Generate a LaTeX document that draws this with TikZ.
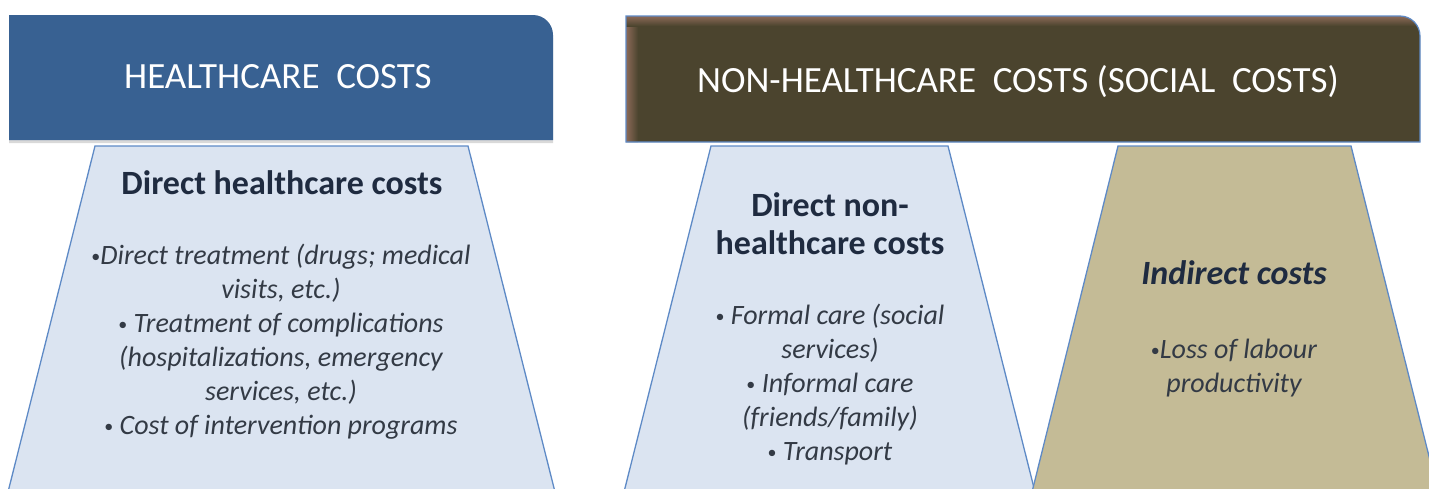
\documentclass[tikz,border=0pt]{standalone}
\usepackage{fontspec}
\setmainfont{Carlito}
\usetikzlibrary{shadows}
\definecolor{hcblue}{HTML}{386192}
\definecolor{olivedark}{HTML}{4B442E}
\definecolor{rustbrown}{HTML}{8C6A58}
\definecolor{paleblue}{HTML}{DBE4F1}
\definecolor{khaki}{HTML}{C4BB96}
\definecolor{edgeblue}{HTML}{5E8AC6}
\definecolor{titleink}{HTML}{1F2B40}
\definecolor{itemink}{HTML}{333A45}
% small list bullet
\newcommand\itembullet{{\fontsize{18}{18}\selectfont\upshape\raisebox{0.12em}{•}}}
\begin{document}
\begin{tikzpicture}[x=1pt,y=-1pt,
  hdrtext/.style={text=white,font=\fontsize{37}{40}\selectfont,inner sep=0pt},
  boxtitle/.style={text=titleink,align=center,inner sep=0pt,font=\fontsize{34}{38}\selectfont\bfseries},
  boxitems/.style={text=itemink,align=center,inner sep=0pt,font=\fontsize{28}{34}\selectfont\itshape},
  trap/.style={draw=edgeblue,line width=1.3pt}]
\useasboundingbox (0,0) rectangle (1429,488);

% column bodies (trapezoids running off the lower edge)
\begin{scope}
\clip (0,0) rectangle (1429,488);
\fill[paleblue] (95,146) -- (468,146) -- (555,492) -- (8,492) -- cycle;
\draw[trap] (8,492) -- (95,146) -- (468,146) -- (555,492);
\fill[paleblue] (711,146) -- (948,146) -- (1035,492) -- (624,492) -- cycle;
\draw[trap] (624,492) -- (711,146) -- (948,146) -- (1035,492);
\fill[khaki] (1118,146) -- (1351,146) -- (1438,492) -- (1032,492) -- cycle;
\draw[trap] (1032,492) -- (1118,146) -- (1351,146) -- (1438,492);
\end{scope}

% header bars (y axis points down, so the corner arc runs from -90 to 0)
\fill[hcblue,drop shadow={shadow xshift=0pt,shadow yshift=-3pt,opacity=0.3}]
  (9,15) -- (533,15) arc[start angle=-90,end angle=0,radius=20] -- (553,140) -- (9,140) -- cycle;

\begin{scope}
\clip (626,16) -- (1400,16) arc[start angle=-90,end angle=0,radius=20] -- (1420,142) -- (626,142) -- cycle;
\fill[olivedark] (620,10) rectangle (1430,150);
\shade[left color=rustbrown,right color=olivedark] (626,16) rectangle (638,142);
\shade[top color=rustbrown,bottom color=olivedark] (626,16) rectangle (1420,26);
\end{scope}
\draw[edgeblue,line width=1.2pt] (626,16) -- (1400,16) arc[start angle=-90,end angle=0,radius=20] -- (1420,142) -- (626,142) -- cycle;

\node[hdrtext] (h1) at (278,77) {HEALTHCARE\ \ COSTS};
\node[hdrtext] (h2) at (1018,82) {NON-HEALTHCARE\ \ COSTS (SOCIAL\ \ COSTS)};

% texts of the three columns
\node[boxtitle] (t1) at (282,183) {Direct healthcare costs};
\node[boxitems] (i1) at (281,342) {\itembullet Direct treatment (drugs; medical\\ visits, etc.)\\ \itembullet\ Treatment of complications\\ (hospitalizations, emergency\\ services, etc.)\\ \itembullet\ Cost of intervention programs};

\node[boxtitle] (t2) at (830,224) {Direct non-\\healthcare costs};
\node[boxitems] (i2) at (830,385) {\itembullet\ Formal care (social\\ services)\\ \itembullet\ Informal care\\ (friends/family)\\ \itembullet\ Transport};

\node[boxtitle,font=\fontsize{34}{38}\selectfont\bfseries\itshape] (t3) at (1234,273) {Indirect costs};
\node[boxitems] (i3) at (1234,368) {\itembullet Loss of labour\\ productivity};
\end{tikzpicture}
\end{document}
